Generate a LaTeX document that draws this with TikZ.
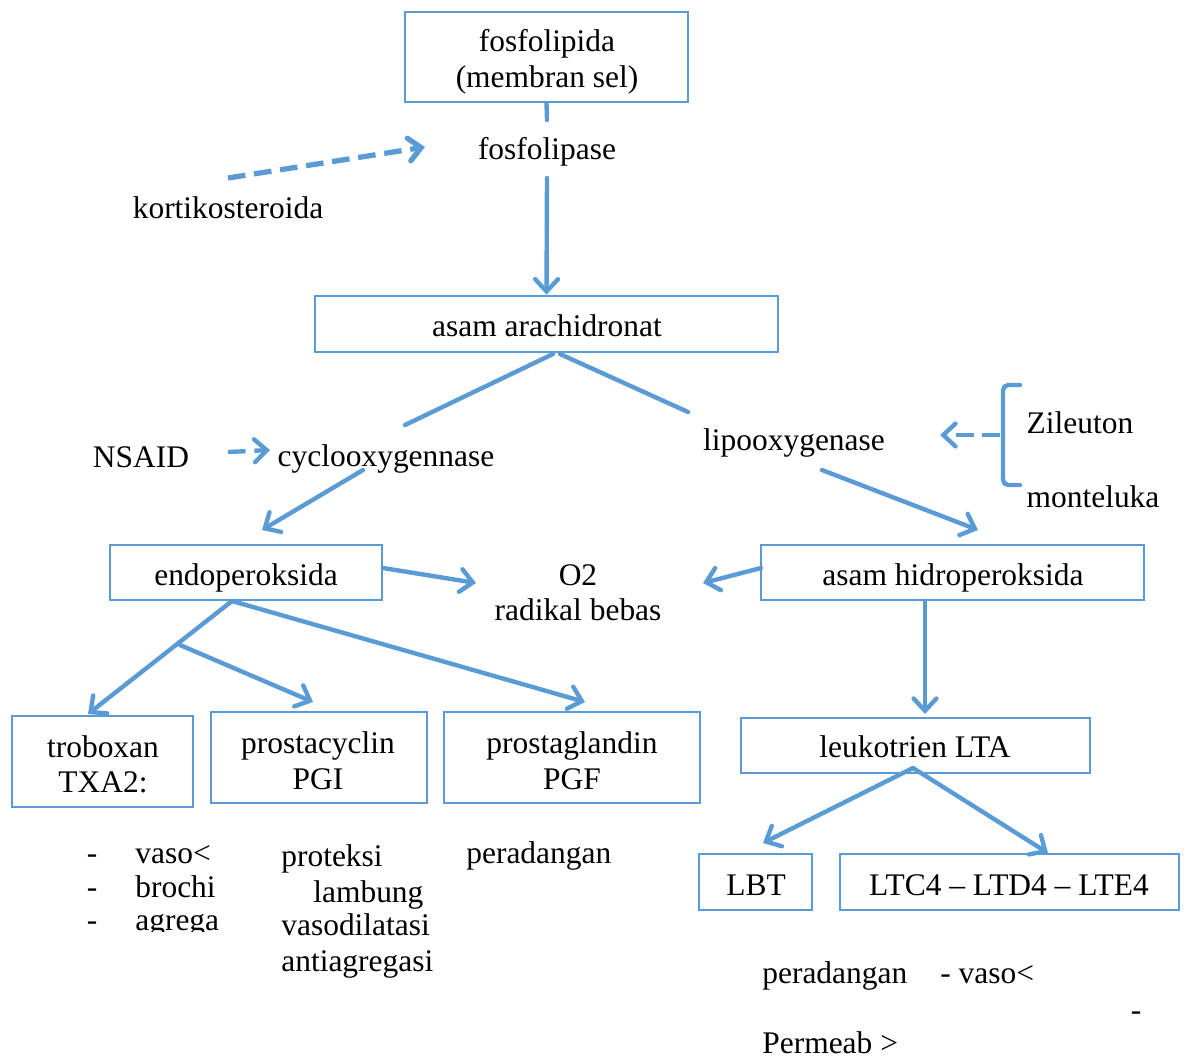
\documentclass[tikz,border=0pt]{standalone}
\usepackage{fontspec}
\setmainfont{Liberation Serif}
\usetikzlibrary{arrows.meta}
\definecolor{lb}{HTML}{5B9BD5}
\begin{document}
\begin{tikzpicture}[x=0.02cm,y=-0.02cm,
  font=\fontsize{17.9}{20.4}\selectfont,
  box/.style 2 args={draw=lb,line width=1.5pt,inner sep=0pt,
     minimum width=#1*0.02cm,minimum height=#2*0.02cm},
  txt/.style={inner sep=0pt,anchor=base},
  lt/.style={inner sep=0pt,anchor=base west},
  conn/.style={draw=lb,line width=2.5pt,line cap=round},
  arr/.style={conn,-{Straight Barb[length=7pt,width=13pt,line cap=round]}},
  darr/.style={arr,line cap=butt,dash pattern=on 10pt off 5pt}]
\useasboundingbox (0,0) rectangle (1189,1059);

% boxes
\node[box={283}{90}] (A) at (546.5,57) {};
\node[box={463}{56}] (B) at (546.5,324) {};
\node[box={272}{55}] (C) at (246,572.5) {};
\node[box={383}{55}] (D) at (952.5,572.5) {};
\node[box={181}{91}] (E) at (102.5,761.5) {};
\node[box={216}{91}] (F) at (319,757.5) {};
\node[box={256}{91}] (G) at (572,757.5) {};
\node[box={349}{55}] (H) at (915.5,745.5) {};
\node[box={113}{56}] (I) at (755.5,882) {};
\node[box={339}{56}] (J) at (1009.5,882) {};

% box texts
\node[txt] (A1) at (547,51) {fosfolipida};
\node[txt] (A2) at (547,87) {(membran sel)};
\node[txt] (B1) at (547,336) {asam arachidronat};
\node[txt] (C1) at (246,585) {endoperoksida};
\node[txt] (D1) at (953,585) {asam hidroperoksida};
\node[txt] (E1) at (103,757) {troboxan};
\node[txt] (E2) at (103,792) {TXA2:};
\node[txt] (F1) at (318,753) {prostacyclin};
\node[txt] (F2) at (318,789) {PGI};
\node[txt] (G1) at (572,753) {prostaglandin};
\node[txt] (G2) at (572,789) {PGF};
\node[txt] (H1) at (915,757) {leukotrien LTA};
\node[txt] (I1) at (756,895) {LBT};
\node[txt] (J1) at (1009,895) {LTC4 -- LTD4 -- LTE4};

% plain texts
\node[txt] (fp) at (547,159) {fosfolipase};
\node[txt] (ks) at (228,218) {kortikosteroida};
\node[txt] (ns) at (141,467) {NSAID};
\node[txt] (cy) at (386,466) {cyclooxygennase};
\node[txt] (lp) at (794,450) {lipooxygenase};
\node[txt] (zi) at (1080,433) {Zileuton};
\node[txt] (mo) at (1093,507) {monteluka};
\node[txt] (o2) at (578,585) {O2};
\node[txt] (rb) at (578,620) {radikal bebas};

\node[txt] (d1) at (92,863) {-};
\node[txt] (d2) at (92,897) {-};
\node[txt] (d3) at (92,930) {-};
\node[lt] (t1) at (135,863) {vaso<};
\node[lt] (t2) at (135,897) {brochi};
\begin{scope}
  \clip (120,900) rectangle (260,931);
  \node[lt] (t3) at (135,930) {agrega};
\end{scope}
\node[lt] (p1) at (281,866) {proteksi};
\node[lt] (p2) at (313,902) {lambung};
\node[lt] (p3) at (281,935) {vasodilatasi};
\node[lt] (p4) at (281,971) {antiagregasi};
\node[lt] (g1) at (466,863) {peradangan};
\node[lt] (l1) at (762,983) {peradangan};
\node[lt] (l2) at (940,983) {- vaso<};
\node[txt] (l3) at (1136,1020) {-};
\node[lt] (l4) at (762,1053) {Permeab >};

% coordinates
\coordinate (a1) at (547,120);
\coordinate (fpS) at (547,178);
\coordinate (ksS) at (228,178);
\coordinate (ksE) at (425,147);
\coordinate (bL) at (553,354);
\coordinate (bR) at (560,354);
\coordinate (cyN) at (405,425);
\coordinate (lpN) at (688,412);
\coordinate (nsE) at (228,452);
\coordinate (cyW) at (270,450);
\coordinate (cyS) at (363,470);
\coordinate (cN) at (262,530);
\coordinate (lpS) at (822,470);
\coordinate (dN) at (978,530);
\coordinate (cE) at (383,568);
\coordinate (oW) at (476,583);
\coordinate (dW) at (761,568);
\coordinate (oE) at (703,583);
\coordinate (cS) at (232,601);
\coordinate (br) at (180,645);
\coordinate (eN) at (88,714);
\coordinate (fN) at (313,702);
\coordinate (gN) at (585,702);
\coordinate (dS) at (925,601);
\coordinate (hN) at (925,714);
\coordinate (hS) at (913,768);
\coordinate (iN) at (763,843);
\coordinate (jN) at (1048,853);
\coordinate (bm) at (1000,435);
\coordinate (lpE) at (940,435);

% connectors
\draw[conn] (A.south) -- (a1);
\draw[arr] (fpS) -- (B.north);
\draw[darr,line width=3pt] (ksS) -- (ksE);
\draw[conn] (bL) -- (cyN);
\draw[conn] (bR) -- (lpN);
\draw[darr] (nsE) -- (cyW);
\draw[arr] (cyS) -- (cN);
\draw[arr] (lpS) -- (dN);
\draw[arr] (cE) -- (oW);
\draw[arr] (dW) -- (oE);
\draw[arr] (cS) -- (eN);
\draw[arr] (br) -- (fN);
\draw[arr] (cS) -- (gN);
\draw[arr] (dS) -- (hN);
\draw[arr] (hS) -- (iN);
\draw[arr] (hS) -- (jN);
\draw[conn,rounded corners=3pt] (1020,385) -- (1003,385) -- (1003,485) -- (1020,485);
\draw[darr] (bm) -- (lpE);
\end{tikzpicture}
\end{document}
